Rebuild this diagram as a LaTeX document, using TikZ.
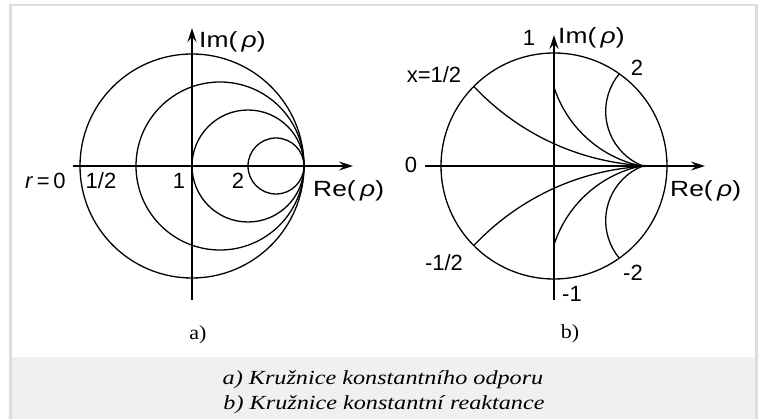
\documentclass[tikz,border=0pt]{standalone}
\usepackage{fontspec}
\setmainfont{Liberation Serif}
\newfontfamily\labfont{Liberation Sans}
\usetikzlibrary{arrows.meta}
\definecolor{framegray}{HTML}{DDDDDD}
\definecolor{capgray}{HTML}{F0F0F0}
\newcommand{\wideIm}{\scalebox{1.2}[1]{Im(\,\textit{ρ})}}
\newcommand{\wideRe}{\scalebox{1.2}[1]{Re(\,\textit{ρ})}}
\begin{document}
\begin{tikzpicture}[x=1pt,y=-1pt,
  lab/.style={font=\labfont\fontsize{22}{22}\selectfont, inner sep=0pt},
  sublab/.style={font=\fontsize{20}{20}\selectfont, inner sep=0pt},
  captext/.style={font=\itshape\fontsize{20}{20}\selectfont, inner sep=0pt},
  curve/.style={line width=1.3pt},
  axisline/.style={line width=1.8pt, -{Stealth[length=14pt,width=9pt,inset=5pt]}}]
\useasboundingbox (0,0) rectangle (760,419);
\fill[white] (0,0) rectangle (760,419);
\fill[capgray] (12,357) rectangle (755,419);
\fill[framegray] (9,4) rectangle (758,6);
\fill[framegray] (9,4) rectangle (12,419);
\fill[framegray] (755,4) rectangle (758,419);

% ---------- panel a ----------
\coordinate (aL) at (73,166);
\coordinate (aR) at (353,166);
\coordinate (aB) at (192,300);
\coordinate (aT) at (192,28);
\draw[curve] (192,166) circle[radius=112pt];
\draw[curve] (220,166) circle[radius=84pt];
\draw[curve] (248,166) circle[radius=56pt];
\draw[curve] (276,166) circle[radius=28pt];
\draw[axisline] (aL) -- (aR);
\draw[axisline] (aB) -- (aT);
\node[lab, anchor=west] (aIm) at (199,42) {\wideIm};
\node[lab, anchor=west] (ar0) at (25,181) {\textit{r}\,=\,0};
\node[lab] (ahalf) at (101,181) {1/2};
\node[lab] (a1) at (179,181) {1};
\node[lab] (a2) at (238,181) {2};
\node[lab, anchor=west] (aRe) at (313,191) {\wideRe};
\node[sublab] (acap) at (198,335) {\scalebox{1.1}[1]{a)}};

% ---------- panel b ----------
\coordinate (bL) at (425,166);
\coordinate (bR) at (705,166);
\coordinate (bB) at (554,300);
\coordinate (bT) at (554,35);
\draw[curve] (554,166) circle[radius=113pt];
\begin{scope}
  \clip (554,166) circle[radius=113pt];
  \clip (420,0) rectangle (720,166);
  \draw[curve] (658,-87) circle[radius=253pt];
  \draw[curve] (664.4,111.4) circle[radius=58.7pt];
  \clip (553,0) rectangle (720,166);
  \draw[curve] (665.7,51.3) circle[radius=117.3pt];
\end{scope}
\begin{scope}
  \clip (554,166) circle[radius=113pt];
  \clip (420,166) rectangle (720,419);
  \draw[curve] (658,419) circle[radius=253pt];
  \draw[curve] (664.4,220.6) circle[radius=58.7pt];
  \clip (553,166) rectangle (720,419);
  \draw[curve] (665.7,280.7) circle[radius=117.3pt];
\end{scope}
\draw[axisline] (bL) -- (bR);
\draw[axisline] (bB) -- (bT);
\node[lab] (b1) at (529,38) {1};
\node[lab, anchor=west] (bIm) at (558,38) {\wideIm};
\node[lab] (bxh) at (434,75) {x=1/2};
\node[lab] (b2) at (637,68) {2};
\node[lab] (b0) at (411,165) {0};
\node[lab, anchor=west] (bRe) at (670,191) {\wideRe};
\node[lab] (bmh) at (444,263) {-1/2};
\node[lab] (bm2) at (633,273) {-2};
\node[lab] (bm1) at (572,294) {-1};
\node[sublab] (bcap) at (570,334) {\scalebox{1.1}[1]{b)}};

% ---------- caption ----------
\node[captext] (c1) at (383,380) {\scalebox{1.21}[1]{a) Kružnice konstantního odporu}};
\node[captext] (c2) at (384,404.5) {\scalebox{1.21}[1]{b) Kružnice konstantní reaktance}};
\end{tikzpicture}
\end{document}
